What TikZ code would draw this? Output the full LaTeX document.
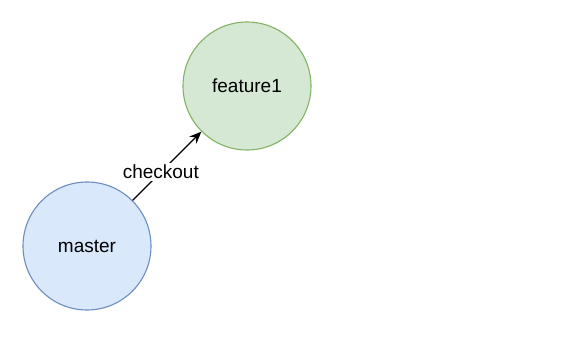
\documentclass[tikz,border=0pt]{standalone}
\usepackage{fontspec}
\setmainfont{Liberation Sans}
\usetikzlibrary{arrows.meta}
\definecolor{blueFill}{HTML}{DAE8FC}
\definecolor{blueLine}{HTML}{6C8EBF}
\definecolor{greenFill}{HTML}{D5E8D4}
\definecolor{greenLine}{HTML}{82B366}
\begin{document}
\begin{tikzpicture}[x=1pt,y=-1pt,
  branch/.style={circle, minimum size=128pt, inner sep=0pt, line width=1.1pt, font=\fontsize{19}{22}\selectfont},
  masterbranch/.style={branch, draw=blueLine, fill=blueFill},
  featurebranch/.style={branch, draw=greenLine, fill=greenFill},
  link/.style={line width=1.4pt, -{Stealth[length=12pt,width=10pt]}},
  linklabel/.style={fill=white, inner sep=2pt, font=\fontsize{19}{22}\selectfont}]
  \useasboundingbox (0,0) rectangle (586,356);
  \node[masterbranch] (master) at (87,246) {master};
  \node[featurebranch] (feature) at (247,86) {feature1};
  \draw[link] (master) -- node[linklabel, pos=0.41] {checkout} (feature);
\end{tikzpicture}
\end{document}
